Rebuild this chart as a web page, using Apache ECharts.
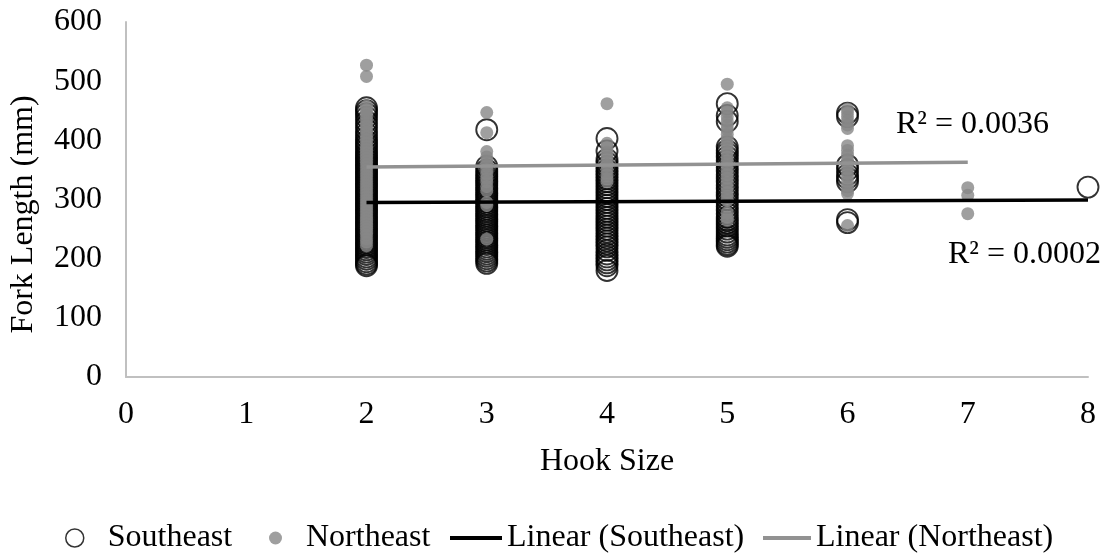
<!DOCTYPE html>
<html><head><meta charset="utf-8">
<script src="https://cdn.jsdelivr.net/npm/echarts@6/dist/echarts.min.js"></script>
<style>html,body{margin:0;padding:0;background:#fff}#c{width:1101px;height:554px}</style>
</head><body><div id="c"></div>
<script>
// ---- data ----
const xTicks = [0, 1, 2, 3, 4, 5, 6, 7, 8];
const yTicks = [0, 100, 200, 300, 400, 500, 600];

// Southeast fork lengths (mm) per hook size
const seHook2 = [455, 450, 445, 439, 432, 425, 418, 411, 405, 399, 394, 389, 384, 379, 375, 371, 367, 363, 359, 355, 351, 347, 343, 339, 335, 331, 327, 323, 319, 315, 311, 307, 303, 299, 295, 291, 287, 283, 279, 275, 271, 267, 263, 259, 255, 251, 247, 243, 239, 235, 231, 227, 223, 219, 215, 211, 207, 203, 199, 195, 191, 188];
const seHook3 = [418, 356, 350, 345, 340, 336, 332, 328, 324, 320, 316, 312, 308, 304, 300, 296, 292, 288, 284, 280, 276, 272, 268, 264, 260, 256, 252, 248, 244, 240, 236, 232, 228, 224, 220, 216, 212, 208, 204, 200, 196, 192];
const seHook4 = [403, 382, 368, 362, 356, 350, 345, 340, 335, 330, 325, 320, 315, 310, 305, 300, 295, 290, 285, 280, 275, 270, 265, 260, 255, 250, 245, 240, 235, 230, 225, 220, 214, 208, 203, 198, 193, 188, 180];
const seHook5 = [462, 442, 432, 389, 383, 378, 372, 366, 360, 354, 348, 342, 336, 330, 324, 318, 312, 306, 300, 294, 288, 282, 276, 270, 265, 260, 255, 250, 245, 240, 236, 232, 228, 224, 221];
const seHook6 = [446, 440, 358, 350, 342, 336, 330, 266, 261];
const seHook8 = [321];

// Northeast fork lengths (mm) per hook size
const neHook2 = [527, 508, 458, 452, 447, 442, 436, 430, 425, 420, 414, 408, 402, 396, 390, 385, 380, 375, 370, 365, 360, 355, 350, 345, 340, 335, 330, 325, 320, 315, 310, 305, 300, 295, 290, 285, 280, 275, 270, 265, 260, 255, 250, 245, 240, 234, 228, 222];
const neHook3 = [447, 413, 381, 372, 365, 358, 350, 343, 336, 330, 322, 315, 295, 290, 233];
const neHook4 = [462, 395, 388, 380, 372, 365, 358, 350, 342, 335, 330];
const neHook5 = [495, 455, 448, 440, 432, 425, 418, 410, 402, 395, 388, 380, 372, 365, 358, 350, 343, 336, 328, 320, 312, 305, 298, 278, 270, 265];
const neHook6 = [453, 447, 440, 433, 426, 420, 391, 383, 375, 367, 360, 352, 345, 338, 330, 322, 315, 310, 256];
const neHook7 = [320, 307, 276];

// Linear trend endpoints [hook size, fork length]
const seTrend = [[2, 295], [8, 299]];
const neTrend = [[2, 355], [7, 363]];
const r2Labels = ['R² = 0.0036', 'R² = 0.0002'];

// ---- build ----
function pairs(hook, arr) { return arr.map(v => [hook, v]); }
const seData = [].concat(pairs(2, seHook2), pairs(3, seHook3), pairs(4, seHook4), pairs(5, seHook5), pairs(6, seHook6), pairs(8, seHook8));
const neData = [].concat(pairs(2, neHook2), pairs(3, neHook3), pairs(4, neHook4), pairs(5, neHook5), pairs(6, neHook6), pairs(7, neHook7));

const FONT = "'Liberation Serif', 'Times New Roman', serif";
const FS = 32;
const GRAY = '#878787';
const LGRAY = '#929292';

function legendItem(left, w, h, item, pad) {
  return {
    left: left, top: 522, padding: 0, itemWidth: w, itemHeight: h, selectedMode: false,
    textStyle: { fontFamily: FONT, fontSize: FS, color: '#000', padding: [0, 0, 0, pad] },
    data: [item]
  };
}

const chart = echarts.init(document.getElementById('c'), null, { renderer: 'canvas' });
chart.setOption({
  backgroundColor: '#fff',
  animation: false,
  grid: { left: 124, right: 13, top: 22, bottom: 177 },
  xAxis: {
    type: 'value', min: xTicks[0], max: xTicks[xTicks.length - 1], interval: 1,
    name: 'Hook Size', nameLocation: 'middle', nameGap: 69,
    nameTextStyle: { fontFamily: FONT, fontSize: FS, color: '#000' },
    axisLine: { lineStyle: { color: '#c0c0c0', width: 2 } },
    axisTick: { show: false }, splitLine: { show: false },
    axisLabel: { fontFamily: FONT, fontSize: FS, color: '#000', margin: 22 }
  },
  yAxis: {
    type: 'value', min: yTicks[0], max: yTicks[yTicks.length - 1], interval: 100,
    name: 'Fork Length (mm)', nameLocation: 'middle', nameGap: 86,
    nameTextStyle: { fontFamily: FONT, fontSize: FS, color: '#000', padding: [0, 30, 0, 0] },
    axisLine: { show: true, lineStyle: { color: '#c0c0c0', width: 2 } },
    axisTick: { show: false }, splitLine: { show: false },
    axisLabel: { fontFamily: FONT, fontSize: FS, color: '#000', margin: 24 }
  },
  legend: [
    legendItem(65, 18, 18, { name: 'Southeast', icon: 'circle', itemStyle: { color: 'rgba(0,0,0,0)', borderColor: '#000', borderWidth: 1.5 } }, 19),
    legendItem(269, 13, 13, { name: 'Northeast', icon: 'circle', itemStyle: { color: GRAY } }, 19),
    legendItem(450, 52, 4, { name: 'Linear (Southeast)', icon: 'rect', itemStyle: { color: '#000' } }, 0),
    legendItem(763, 48, 4, { name: 'Linear (Northeast)', icon: 'rect', itemStyle: { color: LGRAY } }, 0)
  ],
  graphic: [
    { type: 'text', left: 896, top: 109, style: { text: r2Labels[0], font: FS + 'px ' + FONT, fill: '#000' } },
    { type: 'text', left: 948, top: 239, style: { text: r2Labels[1], font: FS + 'px ' + FONT, fill: '#000' } }
  ],
  series: [
    { name: 'Southeast', type: 'scatter', data: seData, symbol: 'circle', symbolSize: 21, z: 2,
      itemStyle: { color: 'rgba(0,0,0,0)', borderColor: '#000', borderWidth: 1.9 }, emphasis: { disabled: true } },
    { name: 'Northeast', type: 'scatter', data: neData, symbol: 'circle', symbolSize: 13, z: 3,
      itemStyle: { color: GRAY }, emphasis: { disabled: true } },
    { name: 'Linear (Southeast)', type: 'line', data: seTrend, showSymbol: false, symbol: 'none', z: 4,
      lineStyle: { color: '#000', width: 3.5 }, emphasis: { disabled: true } },
    { name: 'Linear (Northeast)', type: 'line', data: neTrend, showSymbol: false, symbol: 'none', z: 4,
      lineStyle: { color: LGRAY, width: 3.5 }, emphasis: { disabled: true } }
  ]
});
</script></body></html>
